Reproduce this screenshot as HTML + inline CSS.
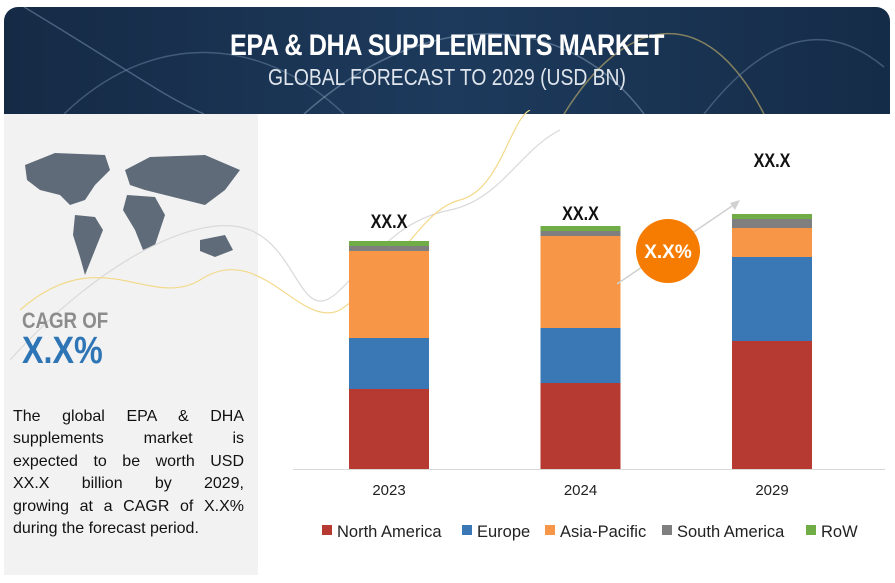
<!DOCTYPE html>
<html><head><meta charset="utf-8"><style>
body{margin:0;width:895px;height:583px;background:#fff;font-family:"Liberation Sans",sans-serif;position:relative;overflow:hidden}
.abs{position:absolute}
.jl{display:block;text-align:justify;text-align-last:justify;white-space:nowrap}
</style></head><body>
<div class="abs" style="left:4px;top:7px;width:886px;height:107px;border-radius:14px 14px 0 0;background:linear-gradient(90deg,#152a45,#1d3a5c 50%,#152c48);overflow:hidden">
<svg width="886" height="107" style="position:absolute;left:0;top:0">
<path d="M20 0 C120 60 160 90 200 107" stroke="#6b86a3" stroke-width="1.5" fill="none" opacity=".6"/>
<path d="M60 107 C150 20 260 30 340 107" stroke="#6b86a3" stroke-width="1.5" fill="none" opacity=".5"/>
<path d="M300 107 C420 0 560 0 640 107" stroke="#8aa3bd" stroke-width="1.5" fill="none" opacity=".5"/>
<path d="M560 107 C620 10 700 -10 760 107" stroke="#c9b46a" stroke-width="1.5" fill="none" opacity=".6"/>
<path d="M700 107 C760 30 820 10 880 60" stroke="#6b86a3" stroke-width="1.5" fill="none" opacity=".5"/>
</svg>
<div class="abs" style="left:0;width:886px;top:22px;text-align:center;color:#fff;font-size:30px;font-weight:bold;transform:scaleX(.84);letter-spacing:-0.5px">EPA &amp; DHA SUPPLEMENTS MARKET</div>
<div class="abs" style="left:0;width:886px;top:57px;text-align:center;color:#dfe5ec;font-size:23px;transform:scaleX(.84)">GLOBAL FORECAST TO 2029 (USD BN)</div>
</div>
<div class="abs" style="left:4px;top:114px;width:254px;height:461px;background:#f2f2f2"></div>
<svg class="abs" style="left:15px;top:145px" width="235" height="140">
<path d="M10 20 L40 8 L90 10 L95 25 L80 40 L70 55 L55 60 L45 50 L25 45 L12 35Z" fill="#5f6b78"/>
<path d="M60 70 L80 72 L88 85 L78 110 L70 130 L65 112 L58 90Z" fill="#5f6b78"/>
<path d="M110 25 L135 12 L190 10 L225 25 L210 45 L190 60 L170 55 L150 50 L130 45 L115 40Z" fill="#5f6b78"/>
<path d="M112 50 L140 52 L150 70 L140 100 L128 105 L120 85 L108 65Z" fill="#5f6b78"/>
<path d="M185 95 L210 90 L218 105 L200 112 L185 106Z" fill="#5f6b78"/>
</svg>
<svg class="abs" style="left:0;top:110px" width="620" height="260">
<path d="M10 250 C100 150 200 100 250 120 C300 140 300 220 340 180 C380 140 400 110 450 100 C500 90 520 40 560 20" stroke="#d9d9d9" fill="none" stroke-width="1.2"/>
<path d="M20 200 C100 130 150 200 200 170 C260 130 300 220 340 200 C400 160 420 100 460 90 C500 80 510 10 530 0" stroke="#f3d98a" fill="none" stroke-width="1.2"/>
</svg>
<div class="abs" style="left:22px;top:308px;font-size:22px;font-weight:bold;color:#8c8c8c;transform:scaleX(.85);transform-origin:left">CAGR OF</div>
<div class="abs" style="left:22px;top:330px;font-size:38px;font-weight:bold;color:#2e75b6;transform:scaleX(.85);transform-origin:left">X.X%</div>
<div class="abs" style="left:13px;top:406px;width:231px;font-size:16px;line-height:22.4px;color:#111">
<span class="jl">The global EPA &amp; DHA</span><span class="jl">supplements market is</span><span class="jl">expected to be worth USD</span><span class="jl">XX.X billion by 2029,</span><span class="jl">growing at a CAGR of X.X%</span><span style="display:block;white-space:nowrap">during the forecast period.</span></div>
<svg class="abs" id="chart" style="left:0;top:0" width="895" height="583"></svg>
<script>
const categories=["2023","2024","2029"];
const series=["North America","Europe","Asia-Pacific","South America","RoW"];
const colors=["#b73a32","#3a78b5","#f79646","#7f7f7f","#70ad47"];
const northAmerica=[8.0,8.6,12.8];
const europe=[5.1,5.5,8.4];
const asiaPacific=[8.7,9.2,2.9];
const southAmerica=[0.5,0.5,0.9];
const row=[0.5,0.5,0.5];
const totalLabels=["XX.X","XX.X","XX.X"];
const vals=[northAmerica,europe,asiaPacific,southAmerica,row];
const svg=document.getElementById('chart');
const NS="http://www.w3.org/2000/svg";
const base=469,k=10;
const y=v=>base-v*k;
const xc=i=>389+i*191.5;
const bw=80;
function mk(t,a){const e=document.createElementNS(NS,t);for(const p in a)e.setAttribute(p,a[p]);svg.appendChild(e);return e;}
let ax=mk('line',{x1:293,x2:885,y1:base+0.5,y2:base+0.5,stroke:'#d9d9d9','stroke-width':1});


const labelOffset=[13,6,47];
categories.forEach((c,i)=>{
 let acc=0;
 vals.forEach((s,j)=>{
  const r=mk('rect',{x:xc(i)-bw/2,y:y(acc+s[i]),width:bw,height:s[i]*k,fill:colors[j]});
  
  
  acc+=s[i];
 });
 const t=mk('text',{x:xc(i),y:y(acc)-labelOffset[i],'text-anchor':'middle','font-size':19,'font-weight':'bold',fill:'#111',transform:'translate('+xc(i)+',0) scale(0.85,1) translate('+(-xc(i))+',0)'});
 t.textContent=totalLabels[i];
 
 
 const xt=mk('text',{x:xc(i),y:495,'text-anchor':'middle','font-size':15,fill:'#222'});
 xt.textContent=c;
 
 
});
const arr=mk('line',{x1:617,y1:284,x2:738,y2:202,stroke:'#d0d0d0','stroke-width':1.5});


const ah=mk('path',{d:'M740 200 L730 203 L735 210Z',fill:'#d0d0d0'});


const cc=mk('circle',{cx:668,cy:251,r:32,fill:'#f57c00'});


const ct=mk('text',{x:668,y:258,'text-anchor':'middle','font-size':19,'font-weight':'bold',fill:'#fff'});
ct.textContent='X.X%';


const lx=[322,462,545,662,806];
series.forEach((s,j)=>{
 const r=mk('rect',{x:lx[j],y:525,width:10,height:10,fill:colors[j]});
 
 
 const t=mk('text',{x:lx[j]+15,y:537,'font-size':16.5,fill:'#222'});
 t.textContent=s;
 
 
});
</script>
</body></html>
